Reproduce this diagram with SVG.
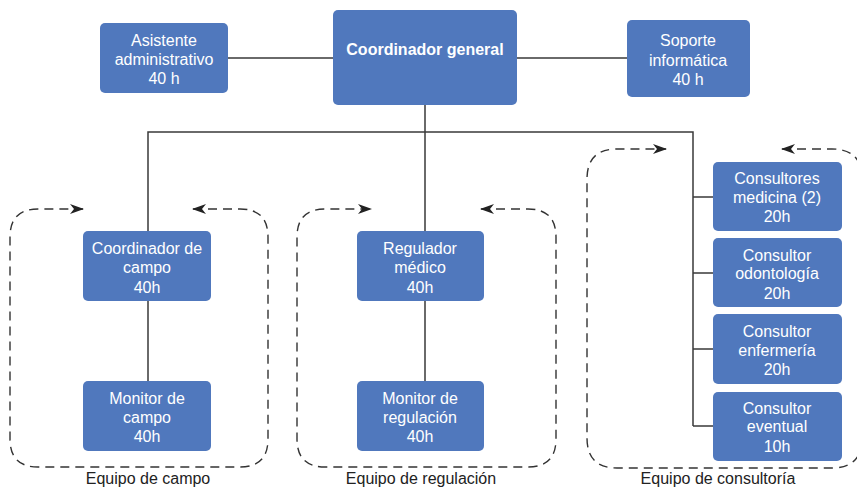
<svg xmlns="http://www.w3.org/2000/svg" width="857" height="488" viewBox="0 0 857 488">
<style>
.n{fill:#5078bd;}
.t{font-family:"Liberation Sans",Arial,sans-serif;font-size:16px;fill:#fff;text-anchor:middle;}
.b{font-weight:bold;}
.c{fill:none;stroke:#3a3a3a;stroke-width:1.5;}
.d{fill:none;stroke:#333;stroke-width:1.4;stroke-dasharray:9 6;}
.l{font-family:"Liberation Sans",Arial,sans-serif;font-size:16px;fill:#222;text-anchor:middle;}
</style>
<defs>
<marker id="ar" viewBox="0 0 14 10" refX="13" refY="5" markerWidth="14" markerHeight="10" markerUnits="userSpaceOnUse" orient="auto-start-reverse">
<path d="M0,0 L14,5 L0,10 L4,5 Z" fill="#222"/>
</marker>
</defs>
<g id="connectors">
<path class="c" d="M228,58 H333 M517,58 H627"/>
<path class="c" d="M425,105 V231 M148,231 V132 H693 V426 M693,197 H713 M693,273 H713 M693,349 H713 M693,426 H713"/>
<path class="c" d="M148,301 V381 M425,301 V381"/>
</g>
<g id="groups">
<path class="d" marker-start="url(#ar)" marker-end="url(#ar)" d="M193,209 H240 Q268,209 268,237 V439 Q268,467 240,467 H38 Q10,467 10,439 V237 Q10,209 38,209 H83"/>
<path class="d" marker-start="url(#ar)" marker-end="url(#ar)" d="M481,209 H528 Q556,209 556,237 V439 Q556,467 528,467 H325 Q297,467 297,439 V237 Q297,209 325,209 H371"/>
<path class="d" marker-start="url(#ar)" marker-end="url(#ar)" d="M782,149 H832 Q862,149 862,179 V438 Q862,468 832,468 H617 Q587,468 587,438 V179 Q587,149 617,149 H666"/>
<text class="l" x="148" y="484">Equipo de campo</text>
<text class="l" x="421" y="484">Equipo de regulación</text>
<text class="l" x="718" y="484">Equipo de consultoría</text>
</g>
<g id="coord-general"><rect class="n" x="333" y="10" width="184" height="95" rx="5"/><text class="t b" x="425" y="55">Coordinador general</text></g>
<g id="asistente"><rect class="n" x="100" y="23" width="128" height="70" rx="5"/><text class="t" x="164" y="46">Asistente</text><text class="t" x="164" y="65">administrativo</text><text class="t" x="164" y="84">40 h</text></g>
<g id="soporte"><rect class="n" x="627" y="20" width="123" height="77" rx="5"/><text class="t" x="688" y="46">Soporte</text><text class="t" x="688" y="66">informática</text><text class="t" x="688" y="85">40 h</text></g>
<g id="coord-campo"><rect class="n" x="83" y="231" width="128" height="70" rx="5"/><text class="t" x="147" y="254">Coordinador de</text><text class="t" x="147" y="273">campo</text><text class="t" x="147" y="293">40h</text></g>
<g id="monitor-campo"><rect class="n" x="83" y="381" width="128" height="70" rx="5"/><text class="t" x="147" y="404">Monitor de</text><text class="t" x="147" y="423">campo</text><text class="t" x="147" y="442">40h</text></g>
<g id="regulador"><rect class="n" x="357" y="231" width="127" height="70" rx="5"/><text class="t" x="420" y="254">Regulador</text><text class="t" x="420" y="273">médico</text><text class="t" x="420" y="293">40h</text></g>
<g id="monitor-regulacion"><rect class="n" x="357" y="381" width="127" height="70" rx="5"/><text class="t" x="420" y="404">Monitor de</text><text class="t" x="420" y="423">regulación</text><text class="t" x="420" y="442">40h</text></g>
<g id="cons-medicina"><rect class="n" x="713" y="162" width="129" height="69" rx="5"/><text class="t" x="777" y="184">Consultores</text><text class="t" x="777" y="203">medicina (2)</text><text class="t" x="777" y="222">20h</text></g>
<g id="cons-odonto"><rect class="n" x="713" y="238" width="129" height="69" rx="5"/><text class="t" x="777" y="261">Consultor</text><text class="t" x="777" y="279">odontología</text><text class="t" x="777" y="299">20h</text></g>
<g id="cons-enfermeria"><rect class="n" x="713" y="314" width="129" height="70" rx="5"/><text class="t" x="777" y="337">Consultor</text><text class="t" x="777" y="356">enfermería</text><text class="t" x="777" y="375">20h</text></g>
<g id="cons-eventual"><rect class="n" x="713" y="392" width="129" height="69" rx="5"/><text class="t" x="777" y="414">Consultor</text><text class="t" x="777" y="432">eventual</text><text class="t" x="777" y="452">10h</text></g>
</svg>
